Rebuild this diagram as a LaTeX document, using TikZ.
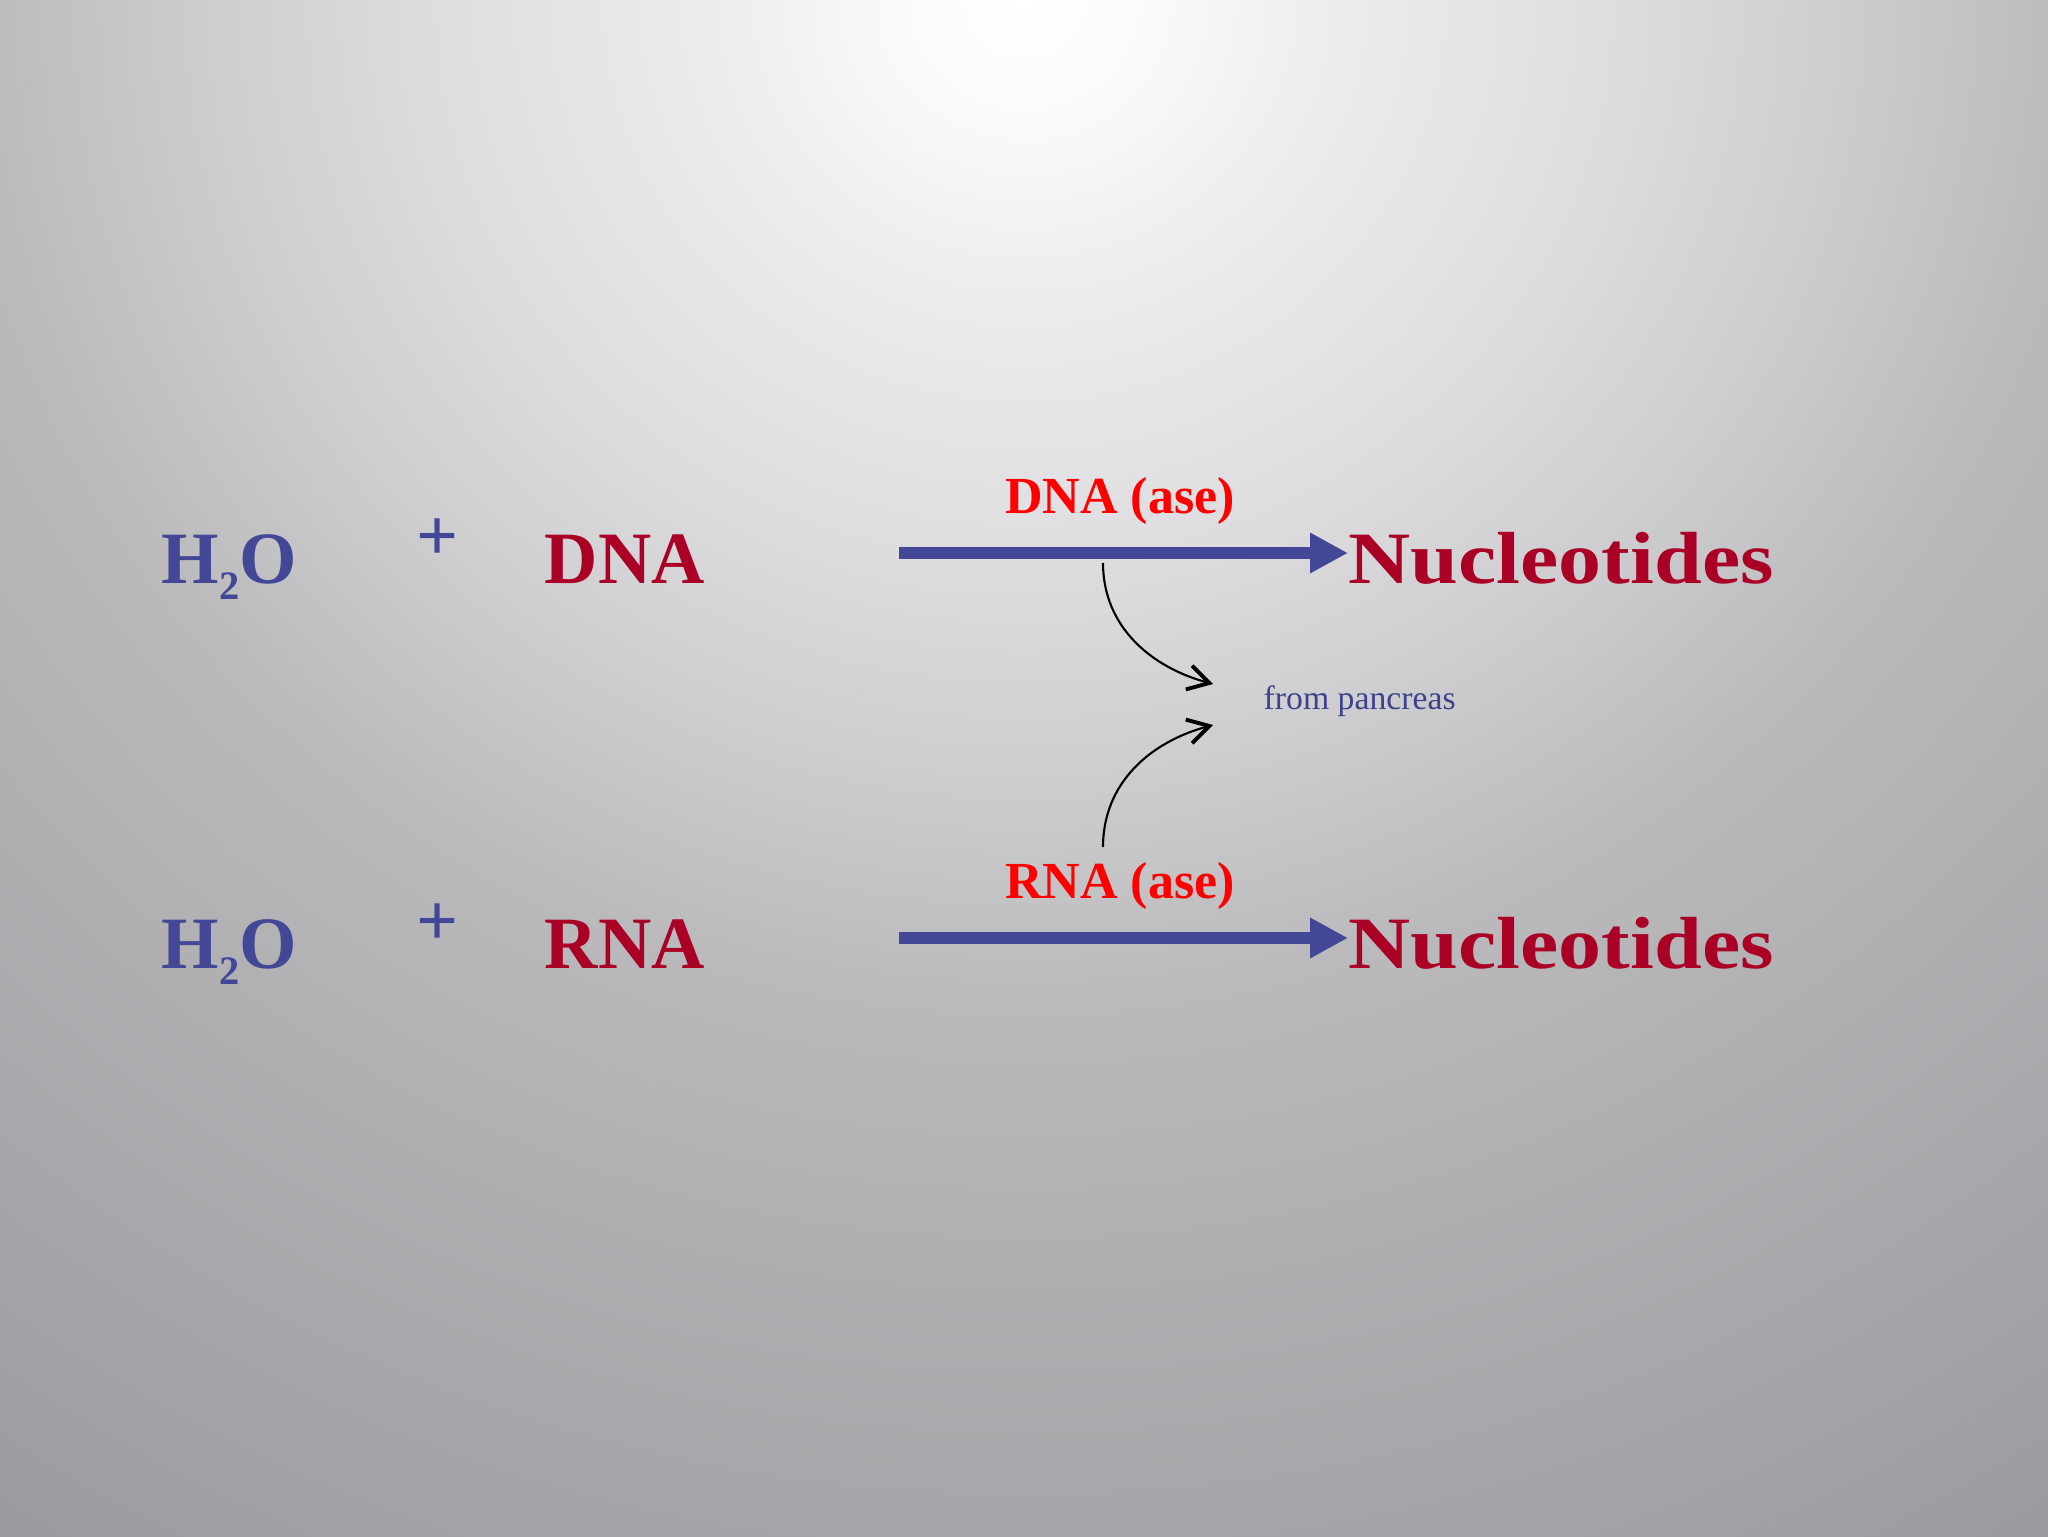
\documentclass[tikz,border=0pt]{standalone}
\usepackage{fontspec}
\setmainfont{Liberation Serif}
\usetikzlibrary{arrows.meta}

\definecolor{slideblue}{RGB}{66,72,150}
\definecolor{acidred}{RGB}{170,0,38}
\definecolor{asered}{RGB}{255,0,0}
\definecolor{notblue}{RGB}{62,66,140}
\definecolor{bgA}{RGB}{255,255,255}
\definecolor{bgB}{RGB}{250,250,250}
\definecolor{bgC}{RGB}{236,236,238}
\definecolor{bgD}{RGB}{222,222,224}
\definecolor{bgE}{RGB}{206,206,209}
\definecolor{bgF}{RGB}{186,186,189}
\definecolor{bgG}{RGB}{174,174,177}
\definecolor{bgH}{RGB}{166,165,169}
\definecolor{bgI}{RGB}{152,151,155}
\pgfdeclareradialshading{slideglow}{\pgfpoint{0bp}{0bp}}{color(0bp)=(bgA); color(1.58bp)=(bgB); color(3.95bp)=(bgC); color(7.24bp)=(bgD); color(10.1bp)=(bgE); color(13.16bp)=(bgF); color(17.1bp)=(bgG); color(20.2bp)=(bgH); color(25bp)=(bgI); color(50bp)=(bgI)}

\begin{document}
\begin{tikzpicture}[x=0.1mm, y=0.1mm,
						bigtext/.style={font=\fontsize{21}{25}\selectfont\bfseries, inner sep=0pt, anchor=base west},
						enzyme/.style={font=\fontsize{14.8}{16}\selectfont\bfseries, text=asered, inner sep=0pt, anchor=base},
						note/.style={font=\fontsize{9.6}{11}\selectfont, text=notblue, inner sep=0pt, anchor=base west},
						mainarrow/.style={draw=slideblue, line width=1.2mm, -{Triangle[length=3.8mm, width=3.8mm]}},
						feed/.style={draw=black, line width=0.6pt, -{Straight Barb[length=6pt, width=7pt, line width=1.1pt]}},
					]
					% slide background
					\useasboundingbox (0,0) rectangle (2048,1536);
					\begin{scope}
						\clip (-20,-20) rectangle (2068,1556);
						\fill[bgI] (-20,-20) rectangle (2068,1556);
						\shade[shading=slideglow] (1024,1536) ellipse (2000 and 1900);
					\end{scope}

					% the two hydrolysis rows
					\foreach \yb/\acid/\row in {953/DNA/top, 568/RNA/bot}
						{
							\node[bigtext, text=slideblue] (water\row) at (161,\yb) {H\raisebox{-4.8pt}{\fontsize{11.5}{12}\selectfont 2}O};
							\node[bigtext, text=slideblue, anchor=center] (plus\row) at (438,\yb+43) {+};
							\node[bigtext, text=acidred] (acid\row) at (544,\yb) {\acid};
							\node[bigtext, text=acidred] (nuc\row) at (1348,\yb) {\scalebox{1.165}[1]{Nucleotides}};
							\coordinate (start\row) at (899,\yb+30);
							\draw[mainarrow] (start\row) -- (start\row -| nuc\row.west);
							\node[enzyme] (ase\row) at (1120,\yb+70) {\acid\ (ase)};
						}

					\node[note] (pancreas) at (1263,827) {from pancreas};
					\coordinate (upFoot) at (1103,973);
					\coordinate (upTip) at (1213,852);
					\coordinate (lowFoot) at (1103,689);
					\coordinate (lowTip) at (1213,811);
					\draw[feed] (upFoot) to[out=-90, in=165] (upTip);
					\draw[feed] (lowFoot) to[out=90, in=195] (lowTip);

				\end{tikzpicture}
\end{document}
